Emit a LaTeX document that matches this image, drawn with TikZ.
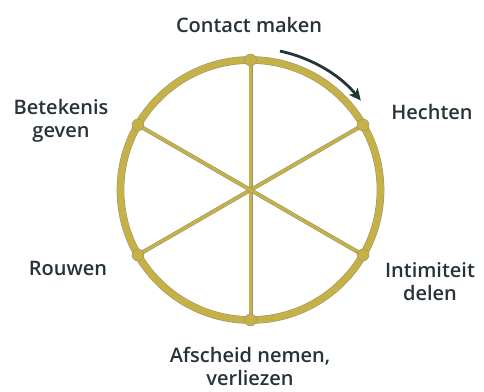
\documentclass[tikz,border=0pt]{standalone}
\usepackage{fontspec}
\IfFontExistsTF{Open Sans Semibold}{\setmainfont{Open Sans Semibold}}{%
  \IfFontExistsTF{Open Sans SemiBold}{\setmainfont{Open Sans SemiBold}}{%
    \setmainfont{Open Sans}[UprightFont=*, UprightFeatures={FakeBold=1.6}]}}
\usetikzlibrary{arrows.meta,calc}
\definecolor{gold}{RGB}{197,177,70}
\definecolor{goldedge}{RGB}{150,145,120}
\definecolor{ink}{RGB}{38,52,58}
\tikzset{
  lbl/.style={text=ink,font=\fontsize{20}{23}\selectfont,align=center,inner sep=0pt},
  spokeedge/.style={draw=goldedge,line width=4pt},
  spoke/.style={draw=gold,line width=3pt},
  ringedge/.style={draw=goldedge,line width=7.6pt},
  ring/.style={draw=gold,line width=6.6pt},
  joint/.style={circle,fill=gold,draw=goldedge,line width=0.4pt,minimum size=12pt,inner sep=0pt},
  turn/.style={draw=ink,line width=2.8pt,-{Stealth[length=12pt,width=11pt,inset=3pt]}}
}
\begin{document}
\begin{tikzpicture}[x=1pt,y=1pt]
\useasboundingbox (0,0) rectangle (484,391);
\coordinate (C) at (250.5,201);
\foreach \a in {30,90,150,210,270,330}{\coordinate (q\a) at ($(C)+(\a:130)$);}
% spokes
\foreach \s/\t in {q90/q270,q30/q210,q150/q330}{
  \draw[spokeedge] (\s) -- (\t);
  \draw[spoke] (\s) -- (\t);
}
% ring
\draw[ringedge] (C) circle[radius=130];
\draw[ring] (C) circle[radius=130];
% joints
\foreach \a in {30,90,150,210,270,330}{\node[joint] (p\a) at (q\a) {};}
% arrow
\coordinate (a1) at ($(C)+(78:142)$);
\draw[turn] (a1) arc[start angle=78,end angle=39,radius=142];
% labels
\node[lbl] (l1) at (249,366) {Contact maken};
\node[lbl] (l2) at (432,279) {Hechten};
\node[lbl] (l3) at (430,109) {Intimiteit\\delen};
\node[lbl] (l4) at (250,25) {Afscheid nemen,\\verliezen};
\node[lbl] (l5) at (68,123) {Rouwen};
\node[lbl] (l6) at (61,270) {Betekenis\\geven};
\end{tikzpicture}
\end{document}
